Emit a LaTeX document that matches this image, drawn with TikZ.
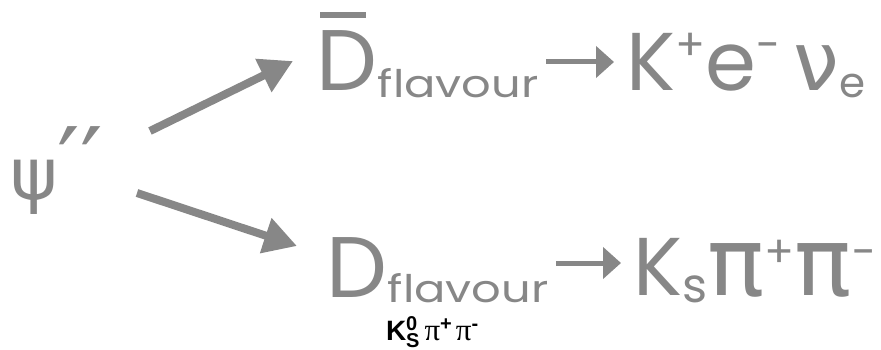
\documentclass[tikz,border=0pt]{standalone}
\usepackage{fontspec}
\setmainfont{Poppins}
\newfontfamily\wide[FakeStretch=1.22]{Poppins}
\newfontfamily\grk{DejaVu Sans}
\newfontfamily\lsans{Liberation Sans}
\newfontfamily\lserif{Liberation Serif}
\usetikzlibrary{arrows.meta,calc}
\definecolor{ink}{HTML}{878787}
\newcommand{\fs}[1]{\fontsize{#1}{#1}\selectfont}
\newcommand{\nodepth}[1]{\raisebox{0pt}[\height][0pt]{#1}}

\tikzset{
  txt/.style={inner sep=0pt, outer sep=0pt, text=ink, anchor=base west},
  bigarrow/.style={draw=ink, line width=8pt,
    -{Triangle[length=33pt, width=35pt]}},
  smallarrow/.style={draw=ink, line width=5pt,
    -{Triangle[length=18pt, width=31pt]}},
}

\begin{document}
\begin{tikzpicture}[x=1pt, y=-1pt]
\useasboundingbox (0,0) rectangle (881,350);

% parent state
\node[txt] (psi) at (10,200) {\grk\fs{72}ψ\fs{100}′′};

% upper branch: anti-D tagged by flavour
\node[txt, font=\fs{86}] (dbar) at (316,91) {D};
\fill[ink] (320,12) rectangle (366,18);
\node[txt, font=\wide\fs{38}] (f1) at ($(dbar.base east)+(1,7)$) {\nodepth{flavour}};
\node[txt, font=\fs{82}] (kenu) at (626,91)
  {K\raisebox{30pt}{\fs{44}+}e\raisebox{30pt}{\fs{44}-}\hspace{13pt}{\grk ν}\raisebox{-7pt}{\fs{42}e}};

% lower branch: D decaying to K_S pi pi
\node[txt, font=\fs{86}] (d) at (326,297) {D};
\node[txt, font=\wide\fs{38}] (f2) at ($(d.base east)+(1,5)$) {\nodepth{flavour}};
\node[txt, font=\fs{82}] (kspp) at (633,295)
  {K\raisebox{-7pt}{\fs{48}s}{\grk\fs{95}π}\raisebox{28pt}{\fs{44}+}{\grk\fs{95}π}\raisebox{28pt}{\fs{44}−}};

% small black label under the lower branch
\node[txt, text=black] (lbl) at (386,340)
  {{\lsans\bfseries\fs{28}K}{\lsans\bfseries\fs{20}\raisebox{10pt}{0}\hspace{-11.1pt}\raisebox{-7pt}{S}}\hspace{5pt}{\lserif\fs{31}π}{\lsans\bfseries\fs{20}\raisebox{10pt}{+}}\hspace{4pt}{\lserif\fs{31}π}{\lsans\bfseries\fs{20}\raisebox{10pt}{-}}};

% decay arrows
\draw[bigarrow] ([shift={(140,-69)}]psi.base west) -- ([xshift=-23pt]dbar.west);
\draw[bigarrow] ([shift={(127,-7)}]psi.base west) -- ([shift={(-29,-21)}]d.west);
\draw[smallarrow] ($(f1.base east)+(8,-36)$) -- ($(kenu.base west)+(-12,-29)$);
\draw[smallarrow] ($(f2.base east)+(8,-39)$) -- ($(kspp.base west)+(-12,-32)$);
\end{tikzpicture}
\end{document}
